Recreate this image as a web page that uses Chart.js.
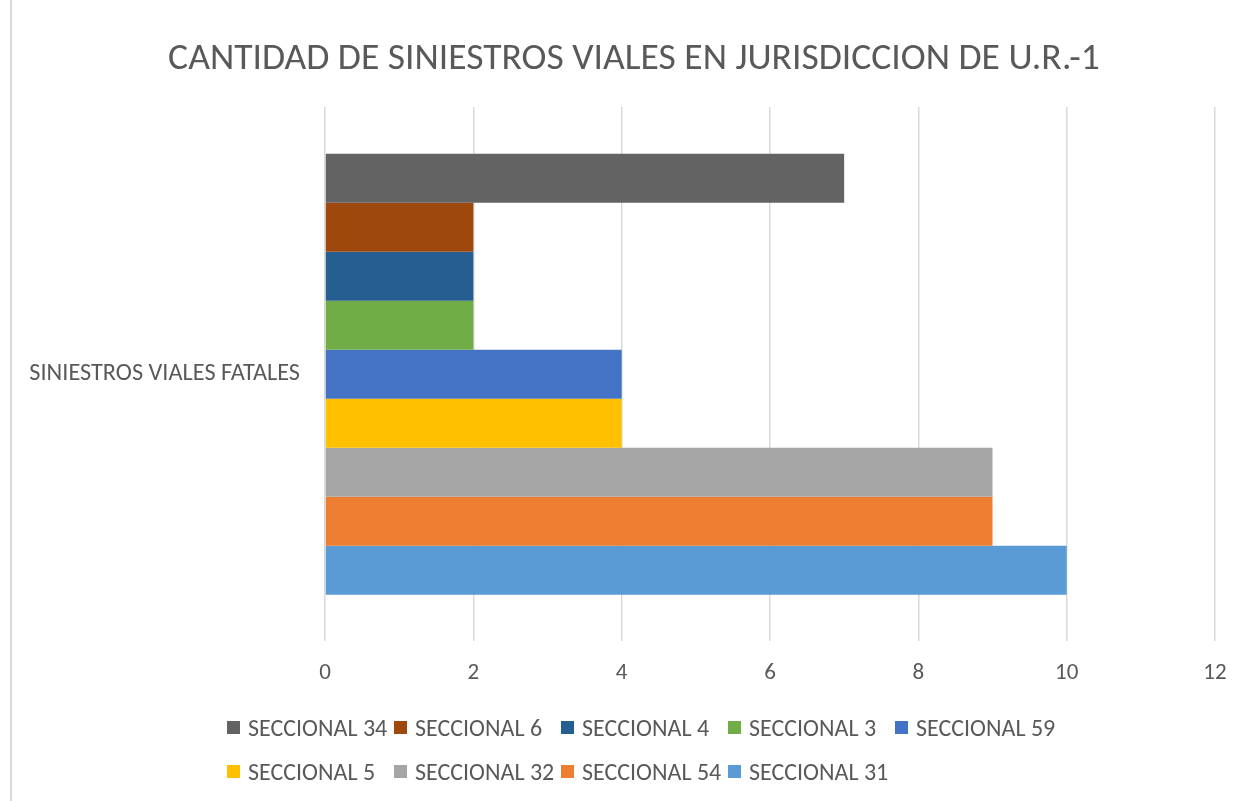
<!DOCTYPE html>
<html>
<head>
<meta charset="utf-8">
<script src="https://cdn.jsdelivr.net/npm/chart.js@4"></script>
<style>
  body { margin: 0; background: #fff; }
  #wrap { position: relative; width: 1248px; height: 801px; }
  #edge { position: absolute; left: 10px; top: 0; width: 2px; height: 801px; background: #d9d9d9; }
  #legend { position: absolute; left: 227px; top: 705px; width: 840px; display: flex; flex-wrap: wrap; }
  .item { width: 167px; height: 44px; display: flex; align-items: center; font: 24px Carlito, sans-serif; color: #595959; white-space: nowrap; }
  .box { width: 13px; height: 13px; margin-right: 8px; flex: none; }
</style>
</head>
<body>
<div id="wrap">
  <canvas id="chart" width="1248" height="801"></canvas>
  <div id="edge"></div>
  <div id="legend"></div>
</div>
<script>
const categories = ['SINIESTROS VIALES FATALES'];
const seccionales = ['SECCIONAL 34', 'SECCIONAL 6', 'SECCIONAL 4', 'SECCIONAL 3', 'SECCIONAL 59',
                     'SECCIONAL 5', 'SECCIONAL 32', 'SECCIONAL 54', 'SECCIONAL 31'];
const values = [7, 2, 2, 2, 4, 4, 9, 9, 10];
const colors = ['#636363', '#9E480E', '#255E91', '#70AD47', '#4472C4',
                '#FFC000', '#A5A5A5', '#ED7D31', '#5B9BD5'];
const xTicks = [0, 2, 4, 6, 8, 10, 12];

const textColor = '#595959';
const font = 'Carlito, sans-serif';
const padLeft = 53; // title is centred a bit right of the canvas centre

const datasets = seccionales.map((name, i) => ({
    label: name,
    data: [values[i]],
    backgroundColor: colors[i],
    barPercentage: 1,
    categoryPercentage: 0.825
}));

const chart = new Chart(document.getElementById('chart').getContext('2d'), {
    type: 'bar',
    data: { labels: categories, datasets },
    options: {
        indexAxis: 'y',
        responsive: false,
        animation: false,
        layout: { padding: { left: padLeft, right: 33, bottom: 96 } },
        plugins: {
            legend: { display: false },
            tooltip: { enabled: false },
            title: {
                display: true,
                text: 'CANTIDAD DE SINIESTROS VIALES EN JURISDICCION DE U.R.-1',
                color: textColor,
                font: { family: font, size: 37.6, weight: 'normal' },
                padding: { top: 37, bottom: 25 }
            }
        },
        scales: {
            x: {
                min: xTicks[0],
                max: xTicks[xTicks.length - 1],
                afterBuildTicks: axis => { axis.ticks = xTicks.map(v => ({ value: v })); },
                grid: { color: '#d9d9d9', lineWidth: 1.5, drawTicks: false },
                border: { display: false },
                ticks: { color: textColor, font: { family: font, size: 23 }, padding: 18 }
            },
            y: {
                grid: { display: false },
                border: { display: false },
                afterFit: axis => {
                    axis.width = 325 - padLeft;
                    // long category label runs into the left padding, don't clip it
                    axis._computeLabelArea = () => undefined;
                },
                ticks: { color: textColor, font: { family: font, size: 24.3 }, padding: 17 }
            }
        }
    }
});

const legend = document.getElementById('legend');
chart.data.datasets.forEach(ds => {
    const item = document.createElement('div');
    item.className = 'item';
    item.innerHTML = `<span class="box" style="background:${ds.backgroundColor}"></span>${ds.label}`;
    legend.appendChild(item);
});
</script>
</body>
</html>
